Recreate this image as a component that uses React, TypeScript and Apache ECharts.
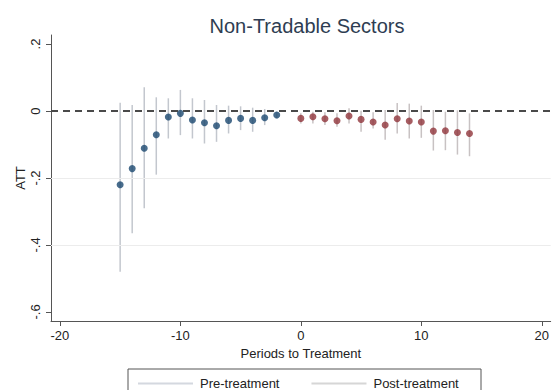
import React, { useEffect, useRef } from "react";
import * as echarts from "echarts";

// Event-study estimates: ATT by period relative to treatment, with 95% CIs
const prePeriods = [-15, -14, -13, -12, -11, -10, -9, -8, -7, -6, -5, -4, -3, -2];
const preATT = [-0.220, -0.172, -0.111, -0.071, -0.018, -0.007, -0.027, -0.035, -0.044, -0.028, -0.022, -0.028, -0.020, -0.012];
const preLow = [-0.480, -0.365, -0.290, -0.190, -0.082, -0.072, -0.082, -0.097, -0.092, -0.067, -0.057, -0.062, -0.042, -0.022];
const preHigh = [0.025, 0.018, 0.071, 0.041, 0.038, 0.063, 0.038, 0.033, 0.018, 0.016, 0.014, 0.010, 0.006, -0.002];

const postPeriods = [0, 1, 2, 3, 4, 5, 6, 7, 8, 9, 10, 11, 12, 13, 14];
const postATT = [-0.022, -0.017, -0.023, -0.029, -0.015, -0.025, -0.033, -0.042, -0.023, -0.030, -0.033, -0.060, -0.059, -0.064, -0.067];
const postLow = [-0.037, -0.037, -0.042, -0.047, -0.037, -0.062, -0.052, -0.086, -0.067, -0.082, -0.080, -0.118, -0.117, -0.130, -0.135];
const postHigh = [-0.007, -0.002, -0.004, -0.007, 0.008, 0.001, -0.004, 0.003, 0.024, 0.022, 0.016, 0.003, -0.002, 0.002, -0.007];

const xTicks = [-20, -10, 0, 10, 20];
const yTicks = [-0.6, -0.4, -0.2, 0, 0.2];
const yGridLines = [-0.4, -0.2];

const FONT = "'Liberation Sans', Arial, sans-serif";

// Stata-style number labels: .2, -.2, 0
const stataNum = (v: number) => {
  const r = Math.round(v * 10) / 10;
  if (r === 0) return "0";
  const s = String(Math.abs(r)).replace(/^0\./, ".");
  return (r < 0 ? "-" : "") + s;
};

const ciSeries = (name: string, xs: number[], lo: number[], hi: number[], color: string) => ({
  name,
  type: "custom",
  data: xs.map((x, i) => [x, lo[i], hi[i]]),
  encode: { x: 0, y: [1, 2] },
  renderItem: (_p: any, api: any) => {
    const a = api.coord([api.value(0), api.value(1)]);
    const b = api.coord([api.value(0), api.value(2)]);
    return {
      type: "line",
      shape: { x1: a[0], y1: a[1], x2: b[0], y2: b[1] },
      style: { stroke: color, lineWidth: 1.5 },
    };
  },
  z: 1,
});

export default function App() {
  const ref = useRef<HTMLDivElement>(null);

  useEffect(() => {
    if (!ref.current) return;
    const chart = echarts.init(ref.current, null, { renderer: "svg" });
    chart.setOption({
      animation: false,
      backgroundColor: "#ffffff",
      textStyle: { fontFamily: FONT },
      title: {
        text: "Non-Tradable Sectors",
        left: 302,
        top: 11,
        textAlign: "center",
        textStyle: { fontFamily: FONT, fontSize: 20, fontWeight: "normal", color: "#2e3d52" },
      },
      grid: { left: 51, top: 35, width: 506, height: 286 },
      legend: {
        left: 133,
        top: 372,
        itemWidth: 55,
        itemHeight: 2,
        itemGap: 32,
        textStyle: { fontFamily: FONT, fontSize: 13, color: "#222", padding: [0, 0, 0, 2] },
        data: [
          { name: "Pre-treatment", icon: "rect", itemStyle: { color: "#d4d8df" } },
          { name: "Post-treatment", icon: "rect", itemStyle: { color: "#d6d6d6" } },
        ],
      },
      graphic: [
        {
          type: "rect",
          shape: { x: 128, y: 369, width: 353, height: 32 },
          style: { fill: "none", stroke: "#555", lineWidth: 1 },
          z: 10,
        },
      ],
      xAxis: {
        type: "value",
        min: -20.74,
        max: 20.74,
        name: "Periods to Treatment",
        nameLocation: "middle",
        nameGap: 26,
        nameTextStyle: { fontFamily: FONT, fontSize: 13, color: "#222" },
        axisLine: { show: true, onZero: false, lineStyle: { color: "#555", width: 1 } },
        axisTick: { show: true, length: 5, lineStyle: { color: "#555" }, customValues: xTicks },
        axisLabel: {
          fontFamily: FONT,
          fontSize: 13,
          color: "#222",
          margin: 8,
          customValues: xTicks,
          formatter: (v: number) => String(v),
        },
        splitLine: { show: false },
      },
      yAxis: {
        type: "value",
        min: -0.627,
        max: 0.227,
        name: "ATT",
        nameLocation: "middle",
        nameGap: 24,
        nameMoveOverlap: false,
        nameRotate: 90,
        nameTextStyle: { fontFamily: FONT, fontSize: 13, color: "#222" },
        axisLine: { show: true, onZero: false, lineStyle: { color: "#555", width: 1 } },
        axisTick: { show: true, length: 5, lineStyle: { color: "#555" }, customValues: yTicks },
        axisLabel: {
          fontFamily: FONT,
          fontSize: 13,
          color: "#222",
          rotate: 90,
          margin: 9,
          customValues: yTicks,
          formatter: (v: number) => stataNum(v),
        },
        splitLine: { show: false },
      },
      series: [
        ciSeries("Pre-treatment", prePeriods, preLow, preHigh, "#c3c7ce"),
        ciSeries("Post-treatment", postPeriods, postLow, postHigh, "#c8c2c3"),
        {
          name: "grid",
          type: "scatter",
          data: [],
          silent: true,
          z: 0,
          markLine: {
            silent: true,
            symbol: "none",
            label: { show: false },
            lineStyle: { color: "#ececec", width: 1, type: "solid" },
            data: yGridLines.map((y) => ({ yAxis: y })),
          },
        },
        {
          name: "ATT pre",
          type: "scatter",
          data: prePeriods.map((x, i) => [x, preATT[i]]),
          symbol: "circle",
          symbolSize: 7,
          itemStyle: { color: "#1a476f" },
          z: 3,
        },
        {
          name: "ATT post",
          type: "scatter",
          data: postPeriods.map((x, i) => [x, postATT[i]]),
          symbol: "circle",
          symbolSize: 7,
          itemStyle: { color: "#90353b" },
          z: 3,
          markLine: {
            silent: true,
            symbol: "none",
            label: { show: false },
            lineStyle: { color: "#4a4a4a", width: 2, type: [7, 5] },
            data: [{ yAxis: 0 }],
          },
        },
      ],
    });
    return () => chart.dispose();
  }, []);

  return (
    <div
      ref={ref}
      style={{ position: "fixed", left: 0, top: 0, width: 552, height: 390, overflow: "hidden", background: "#fff" }}
    />
  );
}
